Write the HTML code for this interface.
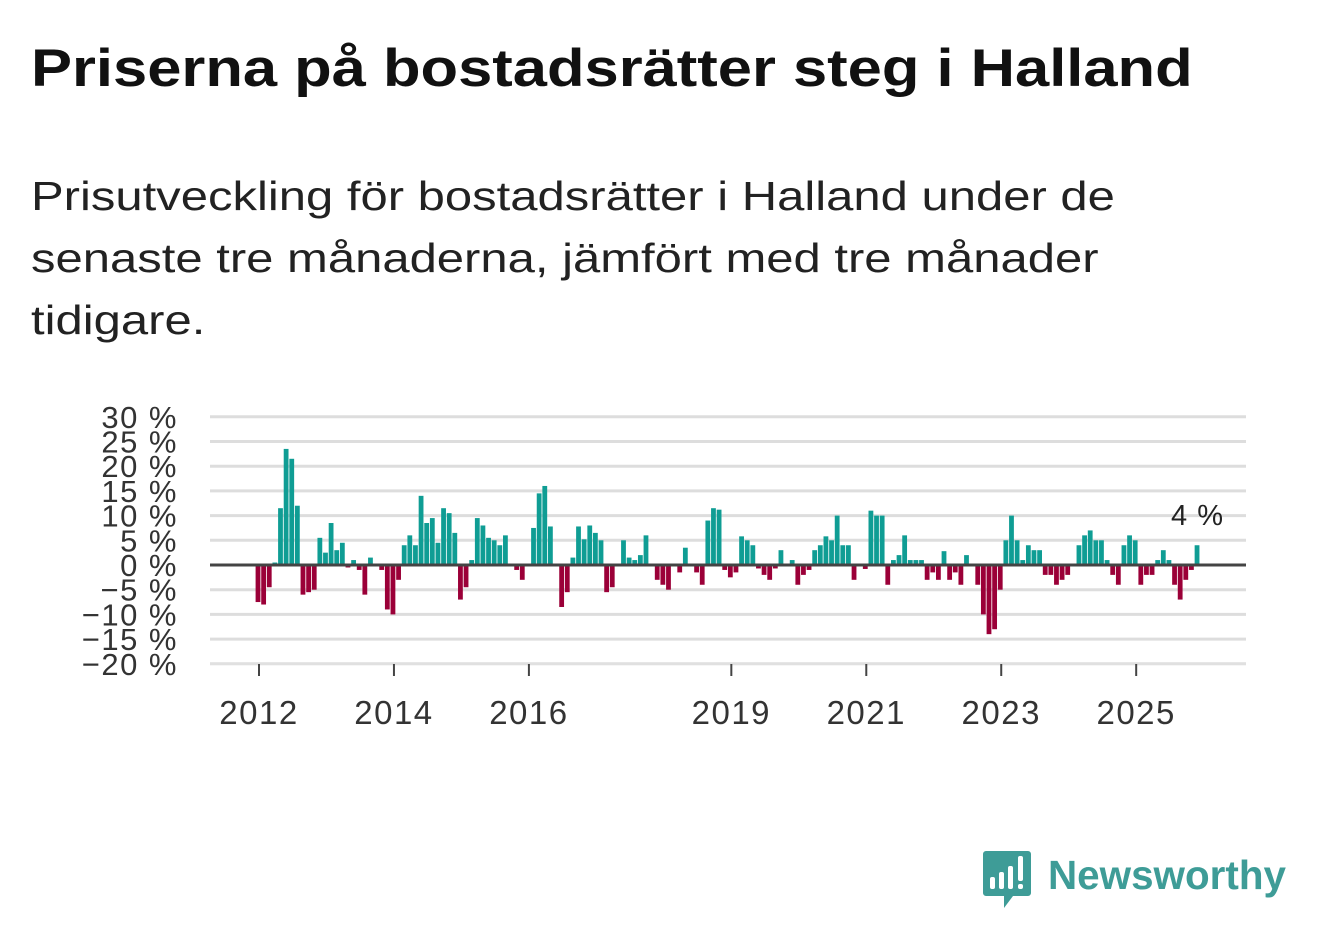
<!DOCTYPE html>
<html><head><meta charset="utf-8">
<style>
body{margin:0;background:#fff;width:1322px;height:939px;overflow:hidden;font-family:"Liberation Sans","DejaVu Sans",sans-serif;}
#title{position:absolute;left:31px;top:38px;font-size:53px;font-weight:bold;color:#111;margin:0;white-space:nowrap;transform:scaleX(1.16);transform-origin:0 0}
#sub{position:absolute;left:31px;top:165px;width:950px;font-size:41px;line-height:62px;color:#222;margin:0;transform:scaleX(1.195);transform-origin:0 0}
svg{position:absolute;left:0;top:0}
</style></head><body>
<h1 id="title">Priserna på bostadsrätter steg i Halland</h1>
<p id="sub">Prisutveckling för bostadsrätter i Halland under de senaste tre månaderna, jämfört med tre månader tidigare.</p>
<svg id="chart" width="1322" height="939"></svg>
<script>
const values=[-7.5,-8,-4.5,0.5,11.5,23.5,21.5,12,-6,-5.5,-5,5.5,2.5,8.5,3,4.5,-0.5,1,-1,-6,1.5,0,-1,-9,-10,-3,4,6,4,14,8.5,9.5,4.5,11.5,10.5,6.5,-7,-4.5,1,9.5,8,5.5,5,4,6,0.2,-1,-3,0,7.5,14.5,16,7.8,-0.3,-8.5,-5.5,1.5,7.8,5.2,8,6.5,5,-5.5,-4.5,0,5,1.5,1,2,6,0,-3,-4,-5,0,-1.5,3.5,0,-1.5,-4,9,11.5,11.2,-1,-2.5,-1.5,5.8,5,4,-0.7,-2,-3,-0.7,3,0,1,-4,-2,-1,3,4,5.8,5,10,4,4,-3,0,-0.8,11,10,10,-4,1,2,6,1,1,1,-3,-1.5,-3,2.8,-3,-1.5,-4,2,0,-4,-10,-14,-13,-5,5,10,5,1,4,3,3,-2,-2,-4,-3,-2,0,4,6,7,5,5,1,-2,-4,4,6,5,-4,-2,-2,1,3,1,-4,-7,-3,-1,4];
const startYear=2012;
const yTicks=[30,25,20,15,10,5,0,-5,-10,-15,-20];
const xTickYears=[2012,2014,2016,2019,2021,2023,2025];
const lastLabel="4 %";
const NS="http://www.w3.org/2000/svg";
const svg=document.getElementById('chart');
const x0=210,x1=1246;
function y(v){return 565-v*4.94;}
function xm(i){return 258+i*5.623;}
function xy(yr){return xm((yr-startYear)*12)+1;}
function mk(t,a){const e=document.createElementNS(NS,t);for(const k in a)e.setAttribute(k,a[k]);svg.appendChild(e);return e;}
yTicks.forEach(v=>{
  if(v!==0){const l=mk('line',{x1:x0,x2:x1,y1:y(v),y2:y(v),stroke:'#ddd','stroke-width':3});
  
  }
  const t=mk('text',{x:178,y:y(v)+11,'text-anchor':'end','font-size':31,'letter-spacing':1.5,fill:'#333'});
  t.textContent=(v<0?'\u2212'+(-v):v)+' %';
  
  
});
const ax=mk('line',{x1:x0,x2:x1,y1:664,y2:664,stroke:'#e2e2e2','stroke-width':1.5});


values.forEach((v,i)=>{
  if(v===0)return;
  const r=mk('rect',{x:xm(i)-2.4,width:4.8,y:Math.min(y(v),565),height:Math.abs(y(v)-565),fill:v>0?'#0f9d94':'#9b0038'});
  
  
});
const z=mk('line',{x1:x0,x2:x1,y1:565,y2:565,stroke:'#444','stroke-width':3});


xTickYears.forEach(yr=>{
  const X=xy(yr);
  const tk=mk('line',{x1:X,x2:X,y1:664,y2:676,stroke:'#444','stroke-width':2});
  
  
  const t=mk('text',{x:X,y:724,'text-anchor':'middle','font-size':33,'letter-spacing':1.5,fill:'#333'});
  t.textContent=yr;
  
  
});
const a=mk('text',{x:1224,y:525,'text-anchor':'end','font-size':29,'letter-spacing':1,fill:'#222'});
a.textContent=lastLabel;


</script>
<svg width="1322" height="939">
<path d="M986 851h42a3 3 0 0 1 3 3v39a3 3 0 0 1-3 3h-15l-9 12v-12h-18a3 3 0 0 1-3-3v-39a3 3 0 0 1 3-3z" fill="#3e9c97"/>
<rect x="990" y="877" width="5" height="12" rx="2" fill="#fff"/>
<rect x="999" y="872" width="5" height="17" rx="2" fill="#fff"/>
<rect x="1008" y="866" width="5" height="23" rx="2" fill="#fff"/>
<rect x="1018" y="856" width="5" height="25" rx="2" fill="#fff"/>
<rect x="1018" y="884" width="5" height="5" rx="2" fill="#fff"/>
<text x="1048" y="889" font-size="41" font-weight="bold" fill="#3e9c97" font-family="Liberation Sans,sans-serif" textLength="238" lengthAdjust="spacingAndGlyphs">Newsworthy</text>
</svg>
</body></html>
